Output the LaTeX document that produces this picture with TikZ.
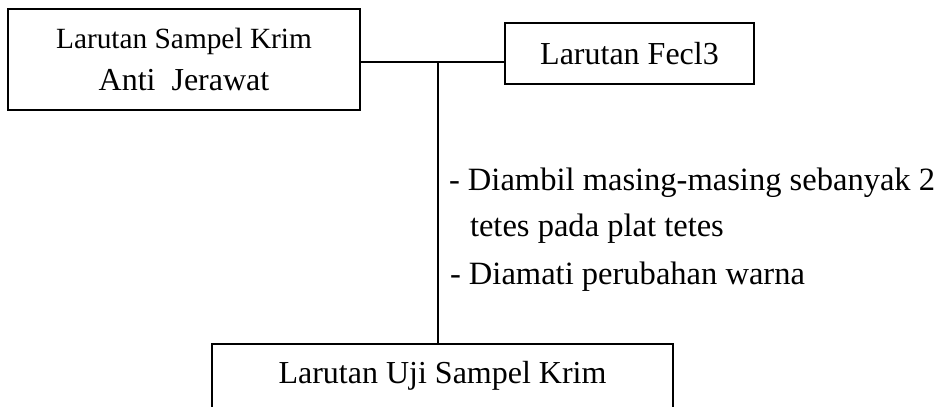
\documentclass[tikz,border=0pt]{standalone}
\usepackage{fontspec}
\setmainfont{Liberation Serif}
\begin{document}
\begin{tikzpicture}[x=0.375pt,y=-0.375pt,line width=0.75pt,
  kotak/.style={draw,inner sep=0pt,align=center,font=\fontsize{12}{15.4}\selectfont}]
   \clip (0,0) rectangle (942,407);
   \node[kotak,minimum width=132pt,minimum height=37.9pt] (sampel) at (184,59.5)
     {{\fontsize{11}{15.4}\selectfont Larutan Sampel Krim}\\Anti\ \ Jerawat};
   \node[kotak,minimum width=93.4pt,minimum height=22.9pt] (fecl) at (629.5,53.5) {Larutan Fecl3};
   \node[kotak,minimum width=172.9pt,anchor=north,text height=11.25pt,text depth=22pt,inner ysep=3.75pt]
     (uji) at (442.5,343) {Larutan Uji Sampel Krim};
   \coordinate (cab) at (438,62);
   \draw (cab -| sampel.east) -- (cab -| fecl.west);
   \draw (cab) -- (cab |- uji.north);
   \foreach \y/\x/\t in
     {191/448/{- Diambil masing-masing sebanyak 2},
      237/469/{tetes pada plat tetes},
      285/449/{- Diamati perubahan warna}}
     \node[anchor=base west,inner sep=0pt,font=\fontsize{12.2}{14}\selectfont] (ket\y) at (\x,\y) {\t};
\end{tikzpicture}
\end{document}
